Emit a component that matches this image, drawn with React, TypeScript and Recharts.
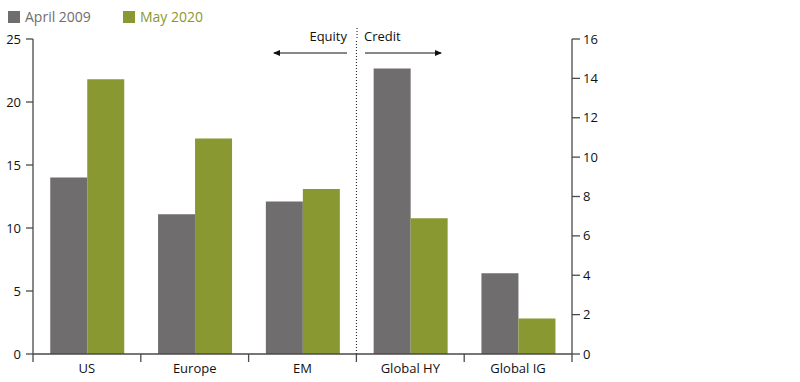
import { BarChart, Bar, XAxis, YAxis, ReferenceLine } from "recharts"

const categories = ["US", "Europe", "EM", "Global HY", "Global IG"]
// equity values read on the left axis, credit values on the right axis
const equityApril2009 = [14, 11.1, 12.1, null, null]
const equityMay2020 = [21.8, 17.1, 13.1, null, null]
const creditApril2009 = [null, null, null, 14.5, 4.1]
const creditMay2020 = [null, null, null, 6.9, 1.8]
const leftTicks = [0, 5, 10, 15, 20, 25]
const rightTicks = [0, 2, 4, 6, 8, 10, 12, 14, 16]

const GRAY = "#6f6d6e"
const OLIVE = "#8a9832"
const AXIS = "#4a4a4a"
const FONT = "'Open Sans', sans-serif"

const data = categories.map((name, i) => ({
  name,
  eqApr: equityApril2009[i],
  eqMay: equityMay2020[i],
  crApr: creditApril2009[i],
  crMay: creditMay2020[i],
}))

function CategoryTick(props: any) {
  const { x, y, payload, index, visibleTicksCount } = props
  const half = payload.offset || 0
  const last = index === visibleTicksCount - 1
  return (
    <g>
      <line x1={x - half} y1={y} x2={x - half} y2={y + 8} stroke={AXIS} strokeWidth={1.3} />
      {last && <line x1={x + half} y1={y} x2={x + half} y2={y + 8} stroke={AXIS} strokeWidth={1.3} />}
      <text x={x} y={y + 19} textAnchor="middle" fill="#111" fontSize={13} fontFamily={FONT}>
        {payload.value}
      </text>
    </g>
  )
}

export default function App() {
  return (
    <div style={{ position: "absolute", left: 0, top: 0, width: 800, height: 382, background: "#fff", fontFamily: FONT }}>
      <BarChart
        width={800}
        height={382}
        data={data}
        margin={{ top: 39, right: 188, bottom: 0, left: 0 }}
        barCategoryGap="16%"
        barGap={0}
      >
        <XAxis
          dataKey="name"
          xAxisId={0}
          height={28}
          tickSize={0}
          tickMargin={0}
          tickLine={false}
          axisLine={{ stroke: AXIS, strokeWidth: 1.3 }}
          tick={<CategoryTick />}
          interval={0}
        />
        <YAxis
          yAxisId="left"
          orientation="left"
          width={33}
          domain={[0, 25]}
          ticks={leftTicks}
          tickSize={7}
          tickMargin={5}
          axisLine={{ stroke: AXIS, strokeWidth: 1.3 }}
          tickLine={{ stroke: AXIS, strokeWidth: 1.3 }}
          tick={{ fill: "#111", fontSize: 13, fontFamily: FONT }}
        />
        <YAxis
          yAxisId="right"
          orientation="right"
          width={40}
          domain={[0, 16]}
          ticks={rightTicks}
          tickSize={8}
          tickMargin={3}
          axisLine={{ stroke: AXIS, strokeWidth: 1.3 }}
          tickLine={{ stroke: AXIS, strokeWidth: 1.3 }}
          tick={{ fill: "#111", fontSize: 13, fontFamily: FONT }}
        />
        <Bar dataKey="eqApr" yAxisId="left" stackId="apr" fill={GRAY} isAnimationActive={false} />
        <Bar dataKey="crApr" yAxisId="right" stackId="apr" fill={GRAY} isAnimationActive={false} />
        <Bar dataKey="eqMay" yAxisId="left" stackId="may" fill={OLIVE} isAnimationActive={false} />
        <Bar dataKey="crMay" yAxisId="right" stackId="may" fill={OLIVE} isAnimationActive={false} />
        <ReferenceLine
          x="Global HY"
          position="start"
          yAxisId="left"
          stroke="#111"
          strokeDasharray="1 2"
          strokeWidth={1}
        />
      </BarChart>

      {/* legend */}
      <div style={{ position: "absolute", left: 8, top: 7, display: "flex", alignItems: "center", fontSize: 14 }}>
        <span style={{ width: 12, height: 12, background: GRAY, display: "inline-block" }} />
        <span style={{ color: GRAY, marginLeft: 5 }}>April 2009</span>
        <span style={{ width: 12, height: 12, background: OLIVE, display: "inline-block", marginLeft: 32 }} />
        <span style={{ color: OLIVE, marginLeft: 5 }}>May 2020</span>
      </div>

      {/* equity / credit annotation */}
      <svg width={800} height={382} style={{ position: "absolute", left: 0, top: 0, pointerEvents: "none" }}>
        <defs>
          <marker id="arrowHead" markerWidth="8" markerHeight="8" refX="6" refY="3" orient="auto" markerUnits="userSpaceOnUse">
            <path d="M0,0 L7,3 L0,6 z" fill="#111" />
          </marker>
        </defs>
        <line x1={357} y1={28} x2={357} y2={40} stroke="#111" strokeDasharray="1 2" />
        <text x={347} y={41} textAnchor="end" fontSize={13} fill="#111" fontFamily={FONT}>Equity</text>
        <text x={364} y={41} textAnchor="start" fontSize={13} fill="#111" fontFamily={FONT}>Credit</text>
        <line x1={347} y1={53} x2={274} y2={53} stroke="#111" strokeWidth={1} markerEnd="url(#arrowHead)" />
        <line x1={365} y1={53} x2={441} y2={53} stroke="#111" strokeWidth={1} markerEnd="url(#arrowHead)" />
      </svg>
    </div>
  )
}
